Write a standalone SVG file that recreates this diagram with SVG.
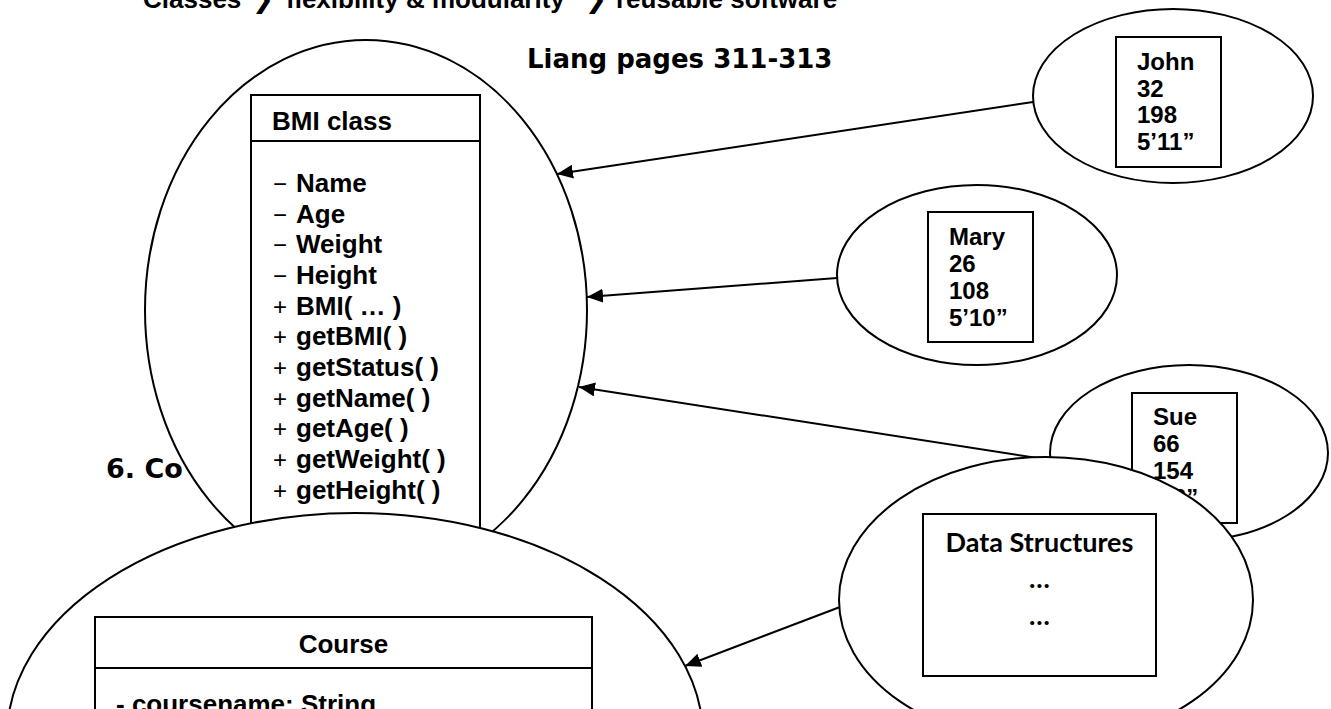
<svg xmlns="http://www.w3.org/2000/svg" width="1331" height="709" viewBox="0 0 1331 709">
<style>
.t{font-family:"Liberation Sans",Arial,sans-serif;font-weight:bold;fill:#000}
.s24{font-size:24px}
.s26{font-size:26px}
.sym{font-family:"Liberation Sans",Arial,sans-serif;font-weight:normal;font-size:24px;fill:#000}
.hv{font-family:"DejaVu Sans",sans-serif;font-weight:bold;fill:#000}
.cal{font-family:Lato,"Open Sans",sans-serif;font-weight:bold;fill:#000}
.sh{fill:#fff;stroke:#000;stroke-width:2}
.ln{stroke:#000;stroke-width:2;fill:none}
.cn{stroke:#000;stroke-width:2;fill:none;marker-end:url(#ah)}
</style>
<defs>
<marker id="ah" markerUnits="userSpaceOnUse" markerWidth="17" markerHeight="15" refX="16" refY="7" orient="auto">
<path d="M0,0 L16,7 L0,14 z" fill="#000"/>
</marker>
</defs>
<rect width="1331" height="709" fill="#fff"/>
<g id="title">
<text class="t s26" y="8"><tspan x="143">Classes</tspan><tspan x="252" font-family="DejaVu Sans">❯</tspan><tspan x="286">flexibility &amp; modularity</tspan><tspan x="585" font-family="DejaVu Sans">❯</tspan><tspan x="616">reusable software</tspan></text>
</g>
<g id="liang"><text class="hv" font-size="26" x="527" y="68">Liang pages 311-313</text></g>
<g id="heading6"><text class="hv" font-size="27" x="106" y="478">6. Co</text></g>
<g id="sue">
<ellipse class="sh" cx="1189" cy="453" rx="139" ry="88"/>
<rect class="sh" x="1132" y="393" width="105" height="130"/>
<text class="t s24"><tspan x="1153" y="425">Sue</tspan><tspan x="1153" y="452">66</tspan><tspan x="1153" y="479">154</tspan><tspan x="1153" y="506">5’6”</tspan></text>
</g>
<g id="connectors">
<line class="cn" x1="1033" y1="102" x2="557" y2="174"/>
<line class="cn" x1="837" y1="278" x2="587" y2="297"/>
<line class="cn" x1="1050" y1="460" x2="579" y2="387"/>
<line class="cn" x1="840" y1="607" x2="685" y2="666"/>
</g>
<g id="bmi">
<ellipse class="sh" cx="366" cy="310" rx="221" ry="270"/>
<rect class="sh" x="251" y="95" width="229" height="450"/>
<line class="ln" x1="251" y1="141" x2="480" y2="141"/>
<text class="t s26" x="272" y="130">BMI class</text>
<text class="sym"><tspan x="273" y="192">−</tspan><tspan x="273" y="223">−</tspan><tspan x="273" y="253">−</tspan><tspan x="273" y="284">−</tspan><tspan x="273" y="315">+</tspan><tspan x="273" y="345">+</tspan><tspan x="273" y="376">+</tspan><tspan x="273" y="407">+</tspan><tspan x="273" y="437">+</tspan><tspan x="273" y="468">+</tspan><tspan x="273" y="499">+</tspan></text>
<text class="t s26"><tspan x="296" y="192">Name</tspan><tspan x="296" y="223">Age</tspan><tspan x="296" y="253">Weight</tspan><tspan x="296" y="284">Height</tspan><tspan x="296" y="315">BMI( … )</tspan><tspan x="296" y="345">getBMI( )</tspan><tspan x="296" y="376">getStatus( )</tspan><tspan x="296" y="407">getName( )</tspan><tspan x="296" y="437">getAge( )</tspan><tspan x="296" y="468">getWeight( )</tspan><tspan x="296" y="499">getHeight( )</tspan></text>
</g>
<g id="course">
<ellipse class="sh" cx="355" cy="737" rx="348" ry="224"/>
<rect class="sh" x="95" y="617" width="497" height="110"/>
<line class="ln" x1="95" y1="668" x2="592" y2="668"/>
<text class="t s26" x="343.5" y="653" text-anchor="middle">Course</text>
<text class="t s26" x="116" y="713">- coursename: String</text>
</g>
<g id="john">
<ellipse class="sh" cx="1173" cy="96" rx="140" ry="87"/>
<rect class="sh" x="1116" y="37" width="105" height="130"/>
<text class="t s24"><tspan x="1137" y="70">John</tspan><tspan x="1137" y="97">32</tspan><tspan x="1137" y="123">198</tspan><tspan x="1137" y="150">5’11”</tspan></text>
</g>
<g id="mary">
<ellipse class="sh" cx="977" cy="275" rx="140" ry="90"/>
<rect class="sh" x="928" y="212" width="105" height="130"/>
<text class="t s24"><tspan x="949" y="245">Mary</tspan><tspan x="949" y="272">26</tspan><tspan x="949" y="299">108</tspan><tspan x="949" y="326">5’10”</tspan></text>
</g>
<g id="datastructures">
<ellipse class="sh" cx="1046" cy="600" rx="207" ry="143"/>
<rect class="sh" x="923" y="514" width="233" height="162"/>
<text class="cal" font-size="27" x="1039.5" y="552" text-anchor="middle">Data Structures</text>
<text class="cal" font-size="27" x="1039.5" y="588" text-anchor="middle">…</text>
<text class="cal" font-size="27" x="1039.5" y="625" text-anchor="middle">…</text>
</g>
</svg>
